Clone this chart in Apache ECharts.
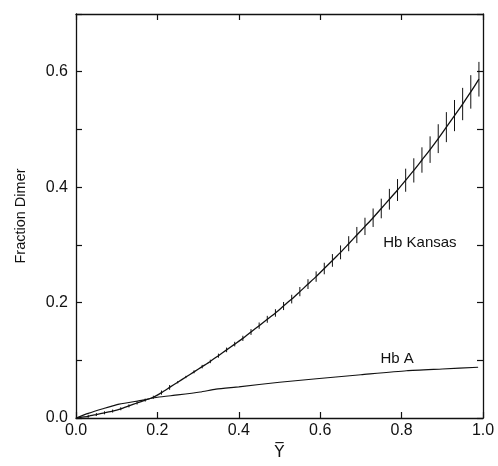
<!DOCTYPE html>
<html>
<head>
<meta charset="utf-8">
<script src="https://cdn.jsdelivr.net/npm/echarts@6/dist/echarts.min.js"></script>
<style>
  html, body { margin: 0; padding: 0; background: #fff; }
  #main { width: 498px; height: 466px; }
</style>
</head>
<body>
<div id="main"></div>
<script>
// Hb Kansas: fraction dimer vs Y (with error half-widths)
var kansasX = [0.01, 0.03, 0.05, 0.07, 0.09, 0.11, 0.13, 0.15, 0.17, 0.19,
  0.21, 0.23, 0.25, 0.27, 0.29, 0.31, 0.33, 0.35, 0.37, 0.39,
  0.41, 0.43, 0.45, 0.47, 0.49, 0.51, 0.53, 0.55, 0.57, 0.59,
  0.61, 0.63, 0.65, 0.67, 0.69, 0.71, 0.73, 0.75, 0.77, 0.79,
  0.81, 0.83, 0.85, 0.87, 0.89, 0.91, 0.93, 0.95, 0.97, 0.99];
var kansasY = [0.001, 0.003, 0.006, 0.009, 0.012, 0.016, 0.021, 0.026, 0.031, 0.036,
  0.044, 0.053, 0.062, 0.071, 0.080, 0.089, 0.098, 0.108, 0.118, 0.128,
  0.138, 0.149, 0.160, 0.171, 0.182, 0.194, 0.206, 0.219, 0.232, 0.245,
  0.259, 0.273, 0.287, 0.302, 0.317, 0.332, 0.347, 0.363, 0.379, 0.395,
  0.412, 0.429, 0.447, 0.465, 0.484, 0.504, 0.524, 0.544, 0.565, 0.587];
var kansasErr = [0, 0, 0, 0, 0, 0, 0, 0, 0, 0,
  0.001, 0.0015, 0.002, 0.002, 0.0025, 0.003, 0.003, 0.0035, 0.004, 0.004,
  0.0045, 0.005, 0.0055, 0.006, 0.0065, 0.007, 0.0075, 0.008, 0.0085, 0.009,
  0.010, 0.011, 0.012, 0.013, 0.014, 0.015, 0.016, 0.017, 0.018, 0.019,
  0.020, 0.021, 0.022, 0.023, 0.025, 0.026, 0.027, 0.028, 0.029, 0.030];

// Hb A
var hbaX = [0, 0.03, 0.066, 0.106, 0.164, 0.2, 0.25, 0.305, 0.344, 0.4, 0.5, 0.591, 0.7, 0.812, 0.9, 0.988];
var hbaY = [0, 0.008, 0.016, 0.024, 0.031, 0.036, 0.040, 0.045, 0.050, 0.054, 0.062, 0.068, 0.075, 0.082, 0.085, 0.088];

var xTicks = [0, 0.2, 0.4, 0.6, 0.8, 1.0];
var yTickLabels = [0, 0.2, 0.4, 0.6];

var chart = echarts.init(document.getElementById('main'));

var kansasLine = kansasX.map(function (x, i) { return [x, kansasY[i]]; });
kansasLine.unshift([0, 0]);
var kansasBars = kansasX.map(function (x, i) {
  return [x, kansasY[i] - kansasErr[i], kansasY[i] + kansasErr[i]];
});
var hbaLine = hbaX.map(function (x, i) { return [x, hbaY[i]]; });

var font = 'Liberation Sans, Arial, sans-serif';

function yLabel(v) {
  for (var i = 0; i < yTickLabels.length; i++) {
    if (Math.abs(v - yTickLabels[i]) < 1e-6) return v.toFixed(1);
  }
  return '';
}
function xLabel(v) {
  for (var i = 0; i < xTicks.length; i++) {
    if (Math.abs(v - xTicks[i]) < 1e-6) return v.toFixed(1);
  }
  return '';
}

var frameAxis = {
  axisLine: { show: true, onZero: false, lineStyle: { color: '#111', width: 1.3 } },
  axisTick: { show: true, inside: true, length: 6, lineStyle: { color: '#111', width: 1.2 } },
  splitLine: { show: false }
};

var option = {
  backgroundColor: '#fff',
  animation: false,
  grid: { left: 76, right: 15, top: 14, bottom: 45 },
  xAxis: [
    Object.assign({}, frameAxis, {
      type: 'value', min: 0, max: 1, interval: 0.2, position: 'bottom',
      name: 'Y\u0305', nameLocation: 'middle', nameGap: 27,
      nameTextStyle: { color: '#111', fontSize: 16, fontFamily: 'DejaVu Sans' },
      axisLabel: { color: '#111', fontSize: 16, fontFamily: font, margin: 5, formatter: xLabel }
    }),
    Object.assign({}, frameAxis, {
      type: 'value', min: 0, max: 1, interval: 0.2, position: 'top',
      axisLabel: { show: false }
    })
  ],
  yAxis: [
    Object.assign({}, frameAxis, {
      type: 'value', min: 0, max: 0.7, interval: 0.1, position: 'left',
      name: 'Fraction Dimer', nameLocation: 'middle', nameGap: 48,
      nameTextStyle: { color: '#111', fontSize: 14.5, fontFamily: font },
      axisLabel: { color: '#111', fontSize: 16, fontFamily: font, margin: 8, formatter: yLabel }
    }),
    Object.assign({}, frameAxis, {
      type: 'value', min: 0, max: 0.7, interval: 0.1, position: 'right',
      axisLabel: { show: false }
    })
  ],
  series: [
    {
      name: 'Hb Kansas', type: 'line', data: kansasLine,
      xAxisIndex: 0, yAxisIndex: 0,
      showSymbol: false, smooth: 0.2,
      lineStyle: { color: '#111', width: 1.3 },
      markPoint: {
        symbol: 'circle', symbolSize: 0,
        label: { show: true, position: 'inside', formatter: 'Hb Kansas', color: '#111', fontSize: 15, fontFamily: font },
        data: [{ coord: [0.845, 0.303] }]
      }
    },
    {
      name: 'Kansas error', type: 'custom', data: kansasBars,
      xAxisIndex: 0, yAxisIndex: 0,
      renderItem: function (params, api) {
        var p1 = api.coord([api.value(0), api.value(1)]);
        var p2 = api.coord([api.value(0), api.value(2)]);
        if (Math.abs(p1[1] - p2[1]) < 2) {
          p1 = [p1[0], p1[1] + 1.5];
          p2 = [p2[0], p2[1] - 1.5];
        }
        return {
          type: 'line',
          shape: { x1: p1[0], y1: p1[1], x2: p2[0], y2: p2[1] },
          style: { stroke: '#111', lineWidth: 1 }
        };
      },
      encode: { x: 0, y: [1, 2] },
      z: 3
    },
    {
      name: 'Hb A', type: 'line', data: hbaLine,
      xAxisIndex: 1, yAxisIndex: 1,
      showSymbol: false, smooth: 0.2,
      lineStyle: { color: '#111', width: 1.1 },
      markPoint: {
        symbol: 'circle', symbolSize: 0,
        label: { show: true, position: 'inside', formatter: 'Hb A', color: '#111', fontSize: 15, fontFamily: font },
        data: [{ coord: [0.789, 0.103] }]
      }
    }
  ]
};

chart.setOption(option);
window.addEventListener('resize', function () { chart.resize(); });
</script>
</body>
</html>
